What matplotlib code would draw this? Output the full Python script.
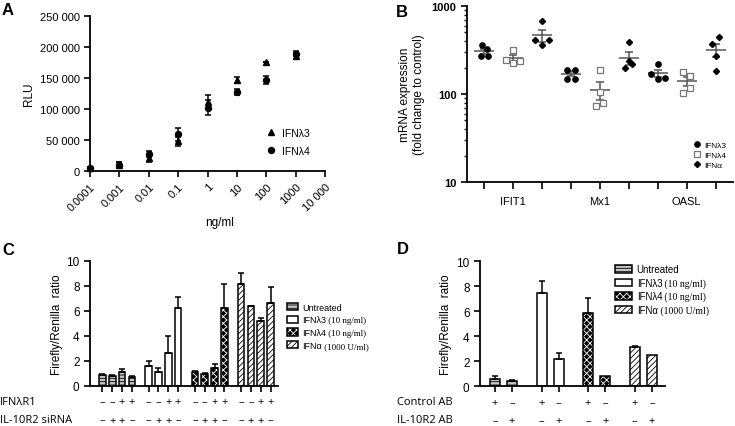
import numpy as np
import matplotlib.pyplot as plt
from matplotlib.patches import Patch
from matplotlib.lines import Line2D
from matplotlib.ticker import NullFormatter

plt.rcParams['font.family'] = ['Liberation Sans', 'DejaVu Sans']
plt.rcParams['hatch.linewidth'] = 0.6
plt.rcParams['axes.linewidth'] = 1.3

# --- A: dose response (RLU)
doses = [0.0001, 0.001, 0.01, 0.1, 1, 10, 100, 1000]
rlu_l3 = [5000, 10000, 21000, 48000, 111000, 147000, 176000, 186000]
rlu_l3_err = [2000, 4500, 6000, 7000, 11000, 5000, 0, 5000]
rlu_l4 = [5000, 10000, 27000, 59000, 102000, 128000, 147000, 189000]
rlu_l4_err = [2000, 4500, 5000, 10000, 12000, 5000, 7000, 4000]
dose_labels = ['0.0001', '0.001', '0.01', '0.1', '1', '10', '100', '1000', '10 000']
rlu_labels = ['0', '50 000', '100 000', '150 000', '200 000', '250 000']

# --- B: mRNA expression, 4 replicates per group
genes = ['IFIT1', 'Mx1', 'OASL']
treatments = ['IFNλ3', 'IFNλ4', 'IFNα']
ifit1_l3 = [360, 325, 270, 270]
ifit1_l4 = [318, 243, 225, 237]
ifit1_a = [670, 414, 414, 360]
mx1_l3 = [189, 189, 150, 150]
mx1_l4 = [187, 106, 74, 78]
mx1_a = [387, 235, 219, 196]
oasl_l3 = [217, 169, 150, 153]
oasl_l4 = [177, 162, 116, 103]
oasl_a = [441, 370, 272, 184]
# horizontal scatter of the replicate dots
jit = [[-0.08, 0.1, -0.1, 0.12], [0, -0.25, 0, 0.22], [0, -0.25, 0.22, 0],
       [-0.13, 0.13, -0.13, 0.13], [0, 0, -0.14, 0.12], [0, 0, 0.12, -0.12],
       [0, -0.23, 0, 0.24], [-0.13, 0.13, 0.13, -0.13], [0.12, -0.12, 0, 0]]

# --- C: reporter, siRNA knockdown
bar_names = ['Untreated', 'IFNλ3', 'IFNλ4', 'IFNα']
bar_suffix = ['', ' (10 ng/ml)', ' (10 ng/ml)', ' (1000 U/ml)']
c_untr = [0.85, 0.8, 1.1, 0.7]
c_untr_err = [0.1, 0.05, 0.2, 0.05]
c_l3 = [1.6, 1.1, 2.65, 6.2]
c_l3_err = [0.4, 0.35, 1.3, 0.9]
c_l4 = [1.1, 0.9, 1.4, 6.2]
c_l4_err = [0.1, 0.1, 0.3, 1.9]
c_a = [8.1, 6.35, 5.15, 6.6]
c_a_err = [0.9, 0.05, 0.25, 1.3]
c_r1 = ['–', '–', '+', '+']
c_sirna = ['–', '+', '+', '–']

# --- D: reporter, blocking antibody
d_untr = [0.6, 0.45]
d_untr_err = [0.2, 0.03]
d_l3 = [7.45, 2.15]
d_l3_err = [1.0, 0.5]
d_l4 = [5.9, 0.8]
d_l4_err = [1.15, 0]
d_a = [3.15, 2.5]
d_a_err = [0.1, 0]
d_ctrl = ['+', '–']
d_il10 = ['–', '+']

W, H = 735, 427
fig = plt.figure(figsize=(W / 100, H / 100), dpi=100)


def px_axes(l, t, r, b):
    return fig.add_axes([l / W, 1 - b / H, (r - l) / W, (b - t) / H])


def clean(ax):
    ax.spines['top'].set_visible(False)
    ax.spines['right'].set_visible(False)
    ax.tick_params(direction='out', length=4, width=1.2, colors='black')


# ---------------- A
axA = px_axes(90, 17, 325, 172)
clean(axA)
axA.set_xscale('log')
axA.errorbar(doses, rlu_l3, yerr=rlu_l3_err, fmt='^', color='black', ms=4.5,
             capsize=2.5, elinewidth=1.1, capthick=1.1, clip_on=False, label='IFNλ3')
axA.errorbar(doses, rlu_l4, yerr=rlu_l4_err, fmt='o', color='black', ms=4.3,
             capsize=2.5, elinewidth=1.1, capthick=1.1, clip_on=False, label='IFNλ4')
axA.set_xlim(1e-4, 1e4)
axA.set_ylim(0, 250000)
axA.set_xticks(10.0 ** np.arange(-4, 5), dose_labels, rotation=45, ha='right',
               rotation_mode='anchor', fontsize=8)
axA.xaxis.set_minor_locator(plt.NullLocator())
axA.set_yticks(np.arange(0, 250001, 50000), rlu_labels, fontsize=8)
axA.set_ylabel('RLU', fontsize=8.5)
axA.yaxis.set_label_coords(-0.234, 0.5)
axA.set_xlabel('ng/ml', fontsize=8.5)
axA.xaxis.set_label_coords(0.553, -0.29)
hA, lA = axA.get_legend_handles_labels()
axA.legend([h[0] for h in hA], lA, loc='upper left', bbox_to_anchor=(0.75, 0.28),
           frameon=False, fontsize=7.5, handlelength=1.0, handletextpad=0.5,
           labelspacing=0.78, borderaxespad=0, borderpad=0)

# ---------------- B
axB = px_axes(467, 7, 733, 183)
clean(axB)
axB.set_yscale('log')
groups = [ifit1_l3, ifit1_l4, ifit1_a, mx1_l3, mx1_l4, mx1_a, oasl_l3, oasl_l4, oasl_a]
mstyle = [dict(marker='o', mfc='black', mec='black', ms=3.8),
          dict(marker='s', mfc='white', mec='#777777', ms=4.2, mew=0.9),
          dict(marker='D', mfc='black', mec='black', ms=3.1)]
for i, (vals, off) in enumerate(zip(groups, jit)):
    v = np.array(vals, dtype=float)
    m = v.mean()
    sem = v.std(ddof=1) / np.sqrt(len(v))
    axB.hlines(m, i - 0.35, i + 0.35, color='#555555', lw=1.1, zorder=1)
    axB.errorbar(i, m, yerr=sem, fmt='none', ecolor='#555555', capsize=3,
                 elinewidth=1.1, capthick=1.1, zorder=1)
    axB.plot(i + np.array(off), v, ls='none', zorder=3, **mstyle[i % 3])
axB.set_xlim(-0.6, 8.6)
axB.set_ylim(10, 1000)
axB.set_yticks([10, 100, 1000], ['10', '100', '1000'], fontsize=8, fontweight='bold')
axB.yaxis.set_minor_formatter(NullFormatter())
axB.tick_params(axis='y', which='minor', length=2.5, width=1)
xl = []
for g in genes:
    xl += ['', g, '']
axB.set_xticks(range(9), xl, fontsize=8)
axB.tick_params(axis='x', length=5, pad=5)
axB.set_ylabel('mRNA expression\n(fold change to control)', fontsize=8.5)
axB.yaxis.set_label_coords(-0.158, 0.5)
hB = [Line2D([], [], ls='none', **s) for s in mstyle]
axB.legend(hB, treatments, loc='upper left', bbox_to_anchor=(0.85, 0.23),
           frameon=False, fontsize=6, handlelength=1.0, handletextpad=0.3,
           labelspacing=0.22, borderaxespad=0, borderpad=0)

# ---------------- C and D bars
bar_style = [dict(facecolor='#c4c4c4', edgecolor='black', hatch='-----'),
             dict(facecolor='white', edgecolor='black'),
             dict(facecolor='black', edgecolor='white', hatch='xxxxx'),
             dict(facecolor='white', edgecolor='black', hatch='//////')]


def draw_bars(ax, xs, vals, errs, k, width):
    s = bar_style[k]
    if k == 2:
        ax.bar(xs, vals, width, lw=0, **s)
        ax.bar(xs, vals, width, facecolor='none', edgecolor='black', lw=1.1)
    else:
        ax.bar(xs, vals, width, lw=1.1, **s)
    xs = np.asarray(xs)
    e = np.asarray(errs)
    ok = e > 0
    ax.errorbar(xs[ok], np.asarray(vals)[ok], yerr=[np.zeros(ok.sum()), e[ok]],
                fmt='none', ecolor='black', capsize=2.2, elinewidth=1.1, capthick=1.1)


def legend_handles():
    hs = []
    for k in range(4):
        if k == 2:
            hs.append((Patch(lw=0, **bar_style[k]),
                       Patch(facecolor='none', edgecolor='black', lw=1.1)))
        else:
            hs.append(Patch(lw=1.1, **bar_style[k]))
    return hs


def add_suffix(ax, leg, size):
    # serif dose text following the sans treatment name
    for txt, suf in zip(leg.get_texts(), bar_suffix):
        if suf:
            ax.annotate(suf, xy=(1, 0), xycoords=txt, va='bottom', ha='left',
                        fontsize=size, family=['Liberation Serif', 'DejaVu Serif'],
                        annotation_clip=False, zorder=10)


def sign_row(ax, xs, signs, y):
    tr = ax.get_xaxis_transform()
    for x, s in zip(xs, signs):
        ax.text(x, y, s, transform=tr, ha='center', va='center', fontsize=8,
                family=['Open Sans', 'DejaVu Sans'], clip_on=False)


# C
axC = px_axes(90, 261.7, 278.3, 386.7)
clean(axC)
c_vals = [c_untr, c_l3, c_l4, c_a]
c_errs = [c_untr_err, c_l3_err, c_l4_err, c_a_err]
c_pos = []
for k in range(4):
    xs = k * 4.7 + np.arange(4)
    c_pos += list(xs)
    draw_bars(axC, xs, c_vals[k], c_errs[k], k, 0.68)
    sign_row(axC, xs, c_r1, -0.13)
    sign_row(axC, xs, c_sirna, -0.275)
axC.set_xlim(-1.26, 17.88)
axC.set_ylim(0, 10)
axC.set_xticks(c_pos, [])
axC.set_yticks(range(0, 11, 2), [str(v) for v in range(0, 11, 2)], fontsize=8.5)
axC.set_ylabel('Firefly/Renilla  ratio', fontsize=8.5)
axC.yaxis.set_label_coords(-0.143, 0.5)
legC = axC.legend(legend_handles(), bar_names, loc='upper left',
                  bbox_to_anchor=(1.045, 0.665), frameon=False, fontsize=6.5,
                  handlelength=1.22, handleheight=0.83, handletextpad=0.5,
                  labelspacing=0.42, borderaxespad=0, borderpad=0)
add_suffix(axC, legC, 6.5)

# D
axD = px_axes(480, 262.3, 665, 387.3)
clean(axD)
d_vals = [d_untr, d_l3, d_l4, d_a]
d_errs = [d_untr_err, d_l3_err, d_l4_err, d_a_err]
d_pos = []
for k in range(4):
    xs = k * 2.71 + np.arange(2)
    d_pos += list(xs)
    draw_bars(axD, xs, d_vals[k], d_errs[k], k, 0.58)
    sign_row(axD, xs, d_ctrl, -0.13)
    sign_row(axD, xs, d_il10, -0.275)
axD.set_xlim(-0.87, 9.89)
axD.set_ylim(0, 10)
axD.set_xticks(d_pos, [])
axD.set_yticks(range(0, 11, 2), [str(v) for v in range(0, 11, 2)], fontsize=8.5)
axD.set_ylabel('Firefly/Renilla  ratio', fontsize=8.5)
axD.yaxis.set_label_coords(-0.151, 0.5)
legD = axD.legend(legend_handles(), bar_names, loc='upper left',
                  bbox_to_anchor=(0.73, 0.975), frameon=False, fontsize=7,
                  handlelength=1.72, handleheight=0.8, handletextpad=0.5,
                  labelspacing=0.36, borderaxespad=0, borderpad=0)
add_suffix(axD, legD, 7)

# row labels under C and D
row_font = dict(fontsize=8, family=['Open Sans', 'DejaVu Sans'], va='center', ha='left')
fig.text(0 / W, 1 - 403 / H, 'IFNλR1', **row_font)
fig.text(0 / W, 1 - 421 / H, 'IL-10R2 siRNA', **row_font)
fig.text(397 / W, 1 - 403 / H, 'Control AB', **row_font)
fig.text(397 / W, 1 - 421 / H, 'IL-10R2 AB', **row_font)

# panel letters
for s, x, y in [('A', 2, 3), ('B', 396, 5), ('C', 2, 243), ('D', 397, 242)]:
    fig.text(x / W, 1 - y / H, s, fontsize=12, fontweight='bold', va='top', ha='left')

fig.savefig('out.png', dpi=100)
